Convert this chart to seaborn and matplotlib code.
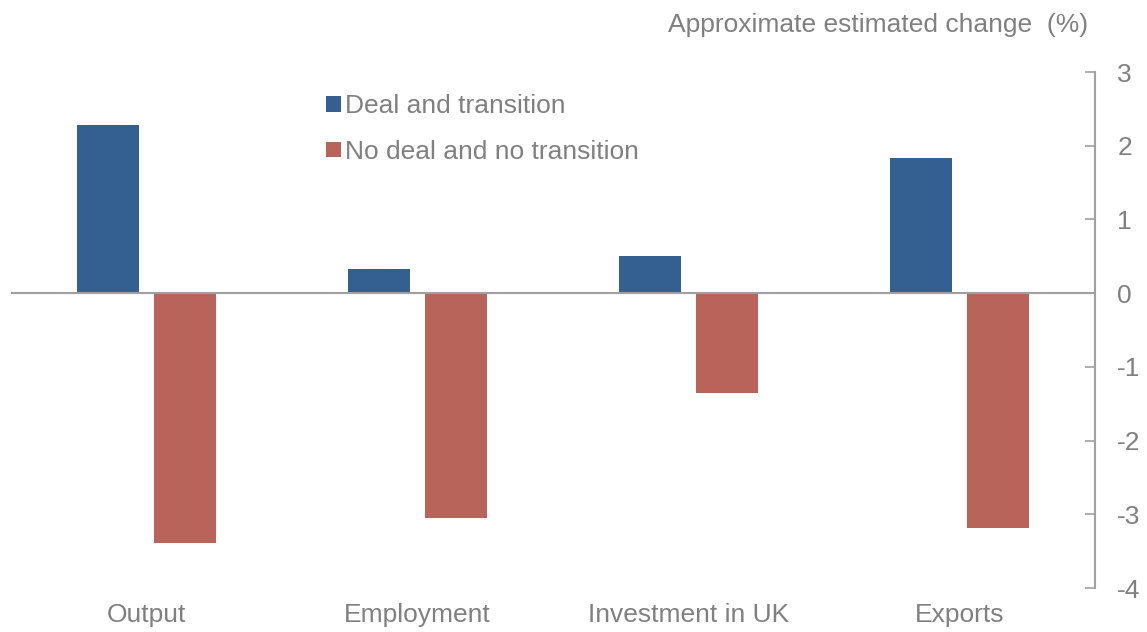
import matplotlib
matplotlib.use("Agg")
import matplotlib.pyplot as plt
import seaborn as sns
import pandas as pd

categories = ["Output", "Employment", "Investment in UK", "Exports"]
series_names = ["Deal and transition", "No deal and no transition"]
deal_values = [2.28, 0.33, 0.50, 1.83]
nodeal_values = [-3.39, -3.05, -1.36, -3.18]
y_ticks = [3, 2, 1, 0, -1, -2, -3, -4]
title_text = "Approximate estimated change  (%)"

colors = ["#345F91", "#B8645A"]
gray = "#808080"

sns.set_theme(style="white")
plt.rcParams["font.family"] = ["Liberation Sans", "DejaVu Sans"]
plt.rcParams["axes.unicode_minus"] = False

df = pd.DataFrame({
    "category": categories * 2,
    "scenario": [series_names[0]] * len(categories) + [series_names[1]] * len(categories),
    "value": deal_values + nodeal_values,
})

fig = plt.figure(figsize=(11.47, 6.32), dpi=100)
ax = fig.add_axes([11 / 1147, 1 - 588 / 632, (1095 - 11) / 1147, (588 - 72) / 632])

sns.barplot(data=df, x="category", y="value", hue="scenario", order=categories,
            hue_order=series_names, palette=colors, width=0.57, gap=0.2,
            saturation=1, errorbar=None, ax=ax, legend=True, linewidth=0)

ax.set_xlim(-0.5, 3.5)
ax.set_ylim(-4, 3)
ax.set_yticks(y_ticks)
ax.set_yticklabels([str(t) for t in y_ticks])
ax.yaxis.tick_right()
ax.axhline(0, color="#A0A0A0", lw=1.5, zorder=5)

for s in ["top", "left", "bottom"]:
    ax.spines[s].set_visible(False)
ax.spines["right"].set_color("#A0A0A0")
ax.spines["right"].set_linewidth(1.5)

ax.tick_params(axis="y", direction="in", length=7, width=1.2, color="#A0A0A0",
               labelcolor=gray, labelsize=19, pad=16, right=True, left=False)
ax.tick_params(axis="x", length=0, labelcolor=gray, labelsize=19, pad=11)
ax.set_xlabel("")
ax.set_ylabel("")

ax.legend(loc="upper left", bbox_to_anchor=(313 / 1147, 1 - 81 / 632),
          bbox_transform=fig.transFigure, frameon=False, fontsize=19,
          handlelength=0.55, handleheight=0.55, handletextpad=0.15,
          labelspacing=0.82, borderpad=0, labelcolor=gray)

fig.text(1088 / 1147, 1 - 25 / 632, title_text, ha="right", va="center",
         fontsize=19, color=gray)

fig.savefig("out.png", dpi=100)
